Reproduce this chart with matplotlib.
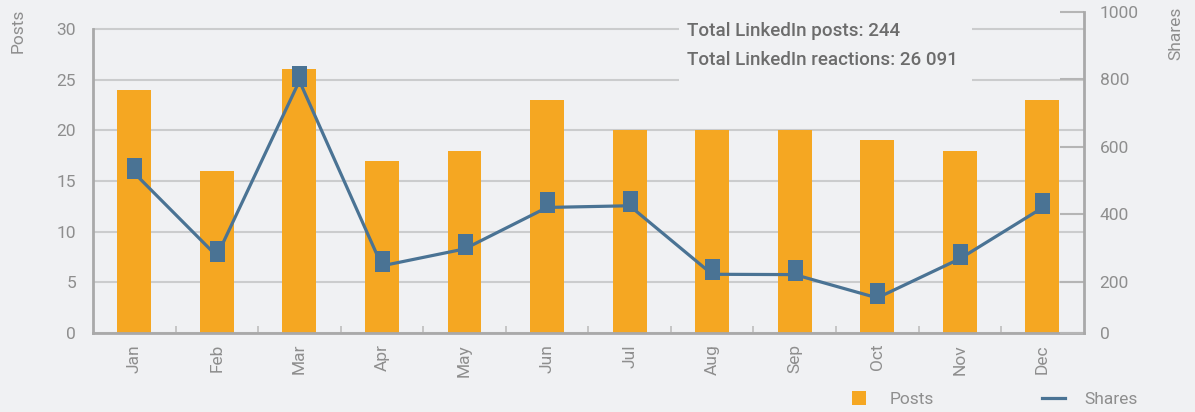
import matplotlib
matplotlib.use('Agg')
import matplotlib.pyplot as plt
import numpy as np
from matplotlib.path import Path
from matplotlib.lines import Line2D
from matplotlib.patches import Rectangle

# ---- data ----
months = ['Jan', 'Feb', 'Mar', 'Apr', 'May', 'Jun', 'Jul', 'Aug', 'Sep', 'Oct', 'Nov', 'Dec']
posts = [24, 16, 26, 17, 18, 23, 20, 20, 20, 19, 18, 23]
shares = [522, 276, 795, 247, 297, 420, 425, 222, 221, 152, 268, 419]
left_ticks = [0, 5, 10, 15, 20, 25, 30]
right_ticks = [48, 200, 400, 600, 800, 1000]
right_tick_labels = ['0', '200', '400', '600', '800', '1000']
summary_lines = ['Total LinkedIn posts: 244', 'Total LinkedIn reactions: 26 091']

# ---- style ----
BG = '#f0f1f3'
ORANGE = '#f5a722'
BLUE = '#4a7394'
TICK = '#8e8e8e'
GRID = '#cbcccd'
SPINE = '#a9a9a9'
W, H = 1195, 412
PX = 72 / 100  # points per pixel
FS = 12.5

plt.rcParams['font.family'] = ['Roboto', 'DejaVu Sans']
plt.rcParams['font.weight'] = 'normal'

fig = plt.figure(figsize=(W / 100, H / 100), dpi=100, facecolor=BG)
ax = fig.add_axes([93 / W, (H - 333) / H, 990.7 / W, 321.3 / H])
ax.set_facecolor(BG)

x = np.arange(len(months))
ax.bar(x, posts, width=0.41, color=ORANGE, zorder=2)
ax.set_xlim(-0.5, len(months) - 0.5)
ax.set_ylim(0, 31.7)
ax.set_yticks(left_ticks)
ax.grid(axis='y', color=GRID, lw=1.5, zorder=0)
ax.set_axisbelow(True)
for s in ['top', 'right']:
    ax.spines[s].set_visible(False)
for s in ['left', 'bottom']:
    ax.spines[s].set_color(SPINE)
    ax.spines[s].set_linewidth(2)
ax.spines['left'].set_bounds(0, 30)
ax.tick_params(axis='y', length=0, pad=17 * PX, labelsize=FS, labelcolor=TICK)
ax.set_xticks(x)
ax.set_xticklabels(months, rotation=90)
ax.tick_params(axis='x', which='major', length=0, pad=11 * PX, labelsize=FS, labelcolor=TICK)
ax.set_xticks(np.arange(0.5, len(months) - 1, 1), minor=True)
ax.tick_params(axis='x', which='minor', direction='in', length=7 * PX, width=1.3, color='#c2c2c2')

ax2 = ax.twinx()
ax2.set_ylim(48, 1000)
ax2.set_yticks(right_ticks)
ax2.set_yticklabels(right_tick_labels)
for s in ['top', 'left', 'bottom']:
    ax2.spines[s].set_visible(False)
ax2.spines['right'].set_color(SPINE)
ax2.spines['right'].set_linewidth(2)
ax2.tick_params(axis='y', direction='in', length=24 * PX, width=1.5, color='#b5b5b5',
                pad=16 * PX, labelsize=FS, labelcolor=TICK)

# rectangle marker drawn slightly above the data point
verts = [(-7.5, -6), (7.5, -6), (7.5, 15), (-7.5, 15), (-7.5, -6)]
codes = [Path.MOVETO, Path.LINETO, Path.LINETO, Path.LINETO, Path.CLOSEPOLY]
mpath = Path(verts, codes)
ax2.plot(x, shares, color=BLUE, lw=2.3, marker=mpath, markersize=2 * 15 * PX,
         markerfacecolor=BLUE, markeredgewidth=0, zorder=3)

# summary text with background box
fig.add_artist(Rectangle((679 / W, 1 - 90 / H), (972 - 679) / W, 78 / H,
                         transform=fig.transFigure, facecolor=BG, edgecolor='none', zorder=5))
fig.text(687 / W, 1 - 36 / H, summary_lines[0], fontsize=13.5, fontweight='medium', color='#6c6c6c',
         va='baseline', ha='left', zorder=6)
fig.text(687 / W, 1 - 65 / H, summary_lines[1], fontsize=13.5, fontweight='medium', color='#6c6c6c',
         va='baseline', ha='left', zorder=6)

# axis titles
fig.text(18 / W, 1 - 9 / H, 'Posts', rotation=90, ha='center', va='top', fontsize=FS, color=TICK)
fig.text(1176 / W, 1 - 7 / H, 'Shares', rotation=90, ha='center', va='top', fontsize=FS, color=TICK)

# legend
handles = [Line2D([], [], marker='s', ls='none', color=ORANGE, markersize=14 * PX, markeredgewidth=0),
           Line2D([], [], color=BLUE, lw=2.3)]
fig.legend(handles, ['Posts', 'Shares'], loc='center left', bbox_to_anchor=(847 / W, 13 / H),
           ncol=2, frameon=False, fontsize=FS, handlelength=1.35, handletextpad=1.1,
           columnspacing=6.2, labelcolor=TICK, borderpad=0, borderaxespad=0)

fig.savefig('out.png', dpi=100, facecolor=BG)
